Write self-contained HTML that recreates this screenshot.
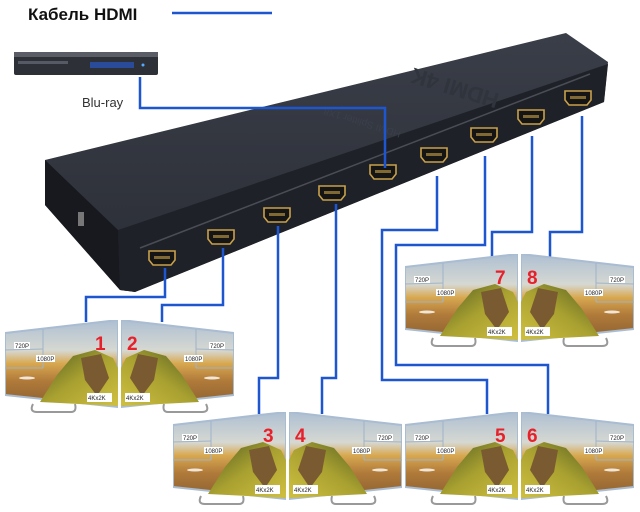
<!DOCTYPE html>
<html><head><meta charset="utf-8"><style>
html,body{margin:0;padding:0;background:#fff;width:640px;height:512px;overflow:hidden}
svg{display:block}
text{font-family:"Liberation Sans",sans-serif}
.lb{font-size:6px;fill:#222}
.num{font-size:19px;font-weight:bold;fill:#e8202a}
.bl{stroke:#1e56d0;stroke-width:2.5;fill:none}
</style></head><body>
<svg width="640" height="512" viewBox="0 0 640 512">
<defs>
<linearGradient id="sky" x1="0" y1="0" x2="0" y2="1">
<stop offset="0" stop-color="#aebfd2"/><stop offset="0.35" stop-color="#d6d8d2"/>
<stop offset="0.5" stop-color="#d8a850"/><stop offset="0.7" stop-color="#b07a3a"/><stop offset="1" stop-color="#8a6030"/>
</linearGradient>
<linearGradient id="hill" x1="0" y1="0" x2="1" y2="1">
<stop offset="0" stop-color="#4e5a22"/><stop offset="0.5" stop-color="#a8a030"/><stop offset="1" stop-color="#d0c040"/>
</linearGradient>
<linearGradient id="top" x1="0" y1="0" x2="0" y2="1">
<stop offset="0" stop-color="#3a3e48"/><stop offset="1" stop-color="#2a2d35"/>
</linearGradient>
<symbol id="mon" viewBox="0 0 113 96" width="113" height="96">
<path d="M28 84 q-4 8 4 8 h34 q6 0 4 -8" stroke="#999" stroke-width="2" fill="none"/>
<polygon points="0,13 113,0 113,87 0,75" fill="url(#sky)" stroke="#a9bcd2" stroke-width="2"/>
<path d="M35 82 L52 55 L68 36 L90 30 L108 38 L113 48 L113 86 Z" fill="url(#hill)"/>
<path d="M76 38 L96 34 L104 58 L92 76 L80 60 Z" fill="#7a5a30"/>
<ellipse cx="22" cy="58" rx="8" ry="1.5" fill="#fff" opacity="0.8"/>
<line x1="38" y1="9" x2="38" y2="48" stroke="#9fb3c8"/>
<line x1="0" y1="30" x2="38" y2="29" stroke="#9fb3c8"/>
<line x1="0" y1="48" x2="38" y2="48" stroke="#9fb3c8"/>
</symbol>
<g id="port"><path d="M0 0 h26 v9 l-4 5 h-18 l-4 -5 z" fill="#151515" stroke="#c9a14a" stroke-width="1.6"/><rect x="5" y="5" width="16" height="3" fill="#c9a14a" opacity="0.6"/></g>
</defs>

<text x="28" y="20" font-size="17" font-weight="bold" fill="#111">Кабель HDMI</text>
<line x1="172" y1="13" x2="272" y2="13" class="bl"/>

<!-- blu-ray -->
<rect x="14" y="55" width="144" height="20" rx="2" fill="#2e3038"/>
<rect x="14" y="52" width="144" height="5" fill="#5a5d66"/>
<rect x="90" y="62" width="44" height="6" fill="#2a4a9a"/>
<rect x="18" y="61" width="50" height="3" fill="#555a64"/>
<circle cx="143" cy="65" r="1.5" fill="#5af"/>
<text x="82" y="107" font-size="13" fill="#333">Blu-ray</text>

<!-- splitter -->
<polygon points="45,160 566,33 608,62 604,102 135,292 120,290 45,205" fill="url(#top)"/>
<polygon points="118,230 608,64 604,102 135,292 120,290" fill="#1f2128"/>
<polygon points="45,160 118,230 120,290 45,205" fill="#17191e"/>
<line x1="140" y1="248" x2="590" y2="74" stroke="#4a4d55" stroke-width="1.5"/>
<rect x="78" y="212" width="6" height="14" fill="#777"/>
<text x="440" y="95" font-size="22" font-weight="bold" fill="#30343d" transform="rotate(-163 470 90)">HDMI 4K</text>
<text x="260" y="140" font-size="10" fill="#3a3f4a" transform="rotate(-163 330 125)">HDMI Splitter 1X8</text>

<use href="#port" x="149" y="251"/>
<use href="#port" x="208" y="230"/>
<use href="#port" x="264" y="208"/>
<use href="#port" x="319" y="186"/>
<use href="#port" x="370" y="165"/>
<use href="#port" x="421" y="148"/>
<use href="#port" x="471" y="128"/>
<use href="#port" x="518" y="110"/>
<use href="#port" x="565" y="91"/>

<!-- lines -->
<polyline class="bl" points="140,77 140,108 385,108 385,168"/>
<polyline class="bl" points="165,268 165,297 86,297 86,322"/>
<polyline class="bl" points="223,248 223,305 162,305 162,322"/>
<polyline class="bl" points="278,226 278,378 259,378 259,414"/>
<polyline class="bl" points="336,204 336,378 322,378 322,414"/>
<polyline class="bl" points="437,176 437,230 382,230 382,380 487,380 487,414"/>
<polyline class="bl" points="485,156 485,245 396,245 396,365 548,365 548,414"/>
<polyline class="bl" points="532,136 532,232 492,232 492,258"/>
<polyline class="bl" points="582,116 582,232 550,232 550,258"/>

<!-- monitors -->
<use href="#mon" x="5" y="320"/>
<use href="#mon" transform="translate(234,320) scale(-1,1)"/>
<use href="#mon" x="173" y="412"/>
<use href="#mon" transform="translate(402,412) scale(-1,1)"/>
<use href="#mon" x="405" y="412"/>
<use href="#mon" transform="translate(634,412) scale(-1,1)"/>
<use href="#mon" x="405" y="254"/>
<use href="#mon" transform="translate(634,254) scale(-1,1)"/>

<g>
<g transform="translate(5,320)"><rect x="9" y="22" width="16" height="7" fill="#fff"/><text class="lb" x="10" y="28">720P</text><rect x="31" y="35" width="19" height="7" fill="#fff"/><text class="lb" x="32" y="41">1080P</text><rect x="82" y="73" width="25" height="9" fill="#fff"/><text class="lb" x="83" y="80" font-size="7">4Kx2K</text><text class="num" x="90" y="30">1</text></g>
<g transform="translate(173,412)"><rect x="9" y="22" width="16" height="7" fill="#fff"/><text class="lb" x="10" y="28">720P</text><rect x="31" y="35" width="19" height="7" fill="#fff"/><text class="lb" x="32" y="41">1080P</text><rect x="82" y="73" width="25" height="9" fill="#fff"/><text class="lb" x="83" y="80" font-size="7">4Kx2K</text><text class="num" x="90" y="30">3</text></g>
<g transform="translate(405,412)"><rect x="9" y="22" width="16" height="7" fill="#fff"/><text class="lb" x="10" y="28">720P</text><rect x="31" y="35" width="19" height="7" fill="#fff"/><text class="lb" x="32" y="41">1080P</text><rect x="82" y="73" width="25" height="9" fill="#fff"/><text class="lb" x="83" y="80" font-size="7">4Kx2K</text><text class="num" x="90" y="30">5</text></g>
<g transform="translate(405,254)"><rect x="9" y="22" width="16" height="7" fill="#fff"/><text class="lb" x="10" y="28">720P</text><rect x="31" y="35" width="19" height="7" fill="#fff"/><text class="lb" x="32" y="41">1080P</text><rect x="82" y="73" width="25" height="9" fill="#fff"/><text class="lb" x="83" y="80" font-size="7">4Kx2K</text><text class="num" x="90" y="30">7</text></g>
<g transform="translate(121,320)"><rect x="88" y="22" width="16" height="7" fill="#fff"/><text class="lb" x="89" y="28">720P</text><rect x="63" y="35" width="19" height="7" fill="#fff"/><text class="lb" x="64" y="41">1080P</text><rect x="4" y="73" width="25" height="9" fill="#fff"/><text class="lb" x="5" y="80" font-size="7">4Kx2K</text><text class="num" x="6" y="30">2</text></g>
<g transform="translate(289,412)"><rect x="88" y="22" width="16" height="7" fill="#fff"/><text class="lb" x="89" y="28">720P</text><rect x="63" y="35" width="19" height="7" fill="#fff"/><text class="lb" x="64" y="41">1080P</text><rect x="4" y="73" width="25" height="9" fill="#fff"/><text class="lb" x="5" y="80" font-size="7">4Kx2K</text><text class="num" x="6" y="30">4</text></g>
<g transform="translate(521,412)"><rect x="88" y="22" width="16" height="7" fill="#fff"/><text class="lb" x="89" y="28">720P</text><rect x="63" y="35" width="19" height="7" fill="#fff"/><text class="lb" x="64" y="41">1080P</text><rect x="4" y="73" width="25" height="9" fill="#fff"/><text class="lb" x="5" y="80" font-size="7">4Kx2K</text><text class="num" x="6" y="30">6</text></g>
<g transform="translate(521,254)"><rect x="88" y="22" width="16" height="7" fill="#fff"/><text class="lb" x="89" y="28">720P</text><rect x="63" y="35" width="19" height="7" fill="#fff"/><text class="lb" x="64" y="41">1080P</text><rect x="4" y="73" width="25" height="9" fill="#fff"/><text class="lb" x="5" y="80" font-size="7">4Kx2K</text><text class="num" x="6" y="30">8</text></g>
</g>
</svg>
</body></html>
